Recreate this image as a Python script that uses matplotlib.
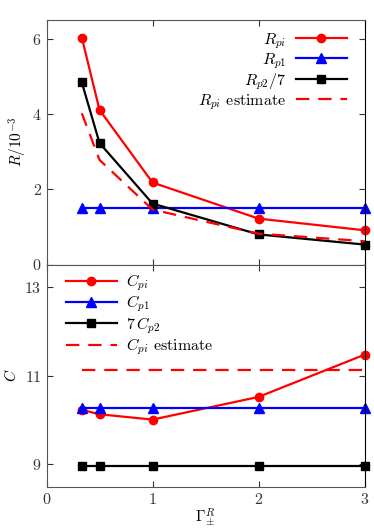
import matplotlib
matplotlib.use("Agg")
from matplotlib import pyplot as plt

plt.rcParams["font.family"] = "serif"
plt.rcParams["font.serif"] = ["cmr10", "DejaVu Serif"]
plt.rcParams["mathtext.fontset"] = "cm"
plt.rcParams["axes.formatter.use_mathtext"] = True
plt.rcParams["font.size"] = 11

gamma = [1/3, 0.5, 1, 2, 3]

# top panel, R in units of 1e-3
r_pi = [6.03, 4.11, 2.18, 1.22, 0.91]
r_p1 = [1.50, 1.50, 1.50, 1.50, 1.50]
r_p2_7 = [4.84, 3.23, 1.62, 0.80, 0.53]
r_pi_est = [4.02, 2.78, 1.46, 0.82, 0.62]

# bottom panel
c_pi = [10.23, 10.13, 10.01, 10.52, 11.47]
c_p1 = [10.28, 10.28, 10.28, 10.28, 10.28]
c_p2_7 = [8.96, 8.96, 8.96, 8.96, 8.96]
c_pi_est = [11.12, 11.12, 11.12, 11.12, 11.12]

fig = plt.figure(figsize=(3.74, 5.29), dpi=100)
ax1 = fig.add_axes([46.5/374, 1 - 264.5/529, 318/374, 244.5/529])
ax2 = fig.add_axes([46.5/374, 1 - 486.7/529, 318/374, 222.2/529])

lw = 1.6
ax1.plot(gamma, r_pi, "-o", color="red", lw=lw, ms=6, clip_on=False, label=r"$R_{pi}$")
ax1.plot(gamma, r_p1, "-^", color="blue", lw=lw, ms=7, clip_on=False, label=r"$R_{p1}$")
ax1.plot(gamma, r_p2_7, "-s", color="black", lw=lw, ms=6, clip_on=False, label=r"$R_{p2}/7$")
ax1.plot(gamma, r_pi_est, "--", color="red", lw=lw, dashes=(6, 4), label=r"$R_{pi}$ estimate")
ax1.set_xlim(0, 3)
ax1.set_ylim(0, 6.5)
ax1.set_yticks([0, 2, 4, 6])
ax1.set_xticks([0, 1, 2, 3])
ax1.tick_params(labelbottom=False)
ax1.set_ylabel(r"$R/10^{-3}$", labelpad=2)
ax1.legend(loc="upper right", bbox_to_anchor=(0.98, 1.0), frameon=False, markerfirst=False,
           handlelength=3.2, handletextpad=0.6, borderaxespad=0.3, labelspacing=0.02,
           fontsize=11.5)

ax2.plot(gamma, c_pi, "-o", color="red", lw=lw, ms=6, clip_on=False, label=r"$C_{pi}$")
ax2.plot(gamma, c_p1, "-^", color="blue", lw=lw, ms=7, clip_on=False, label=r"$C_{p1}$")
ax2.plot(gamma, c_p2_7, "-s", color="black", lw=lw, ms=6, clip_on=False, label=r"$7\,C_{p2}$")
ax2.plot(gamma, c_pi_est, "--", color="red", lw=lw, dashes=(6, 4), label=r"$C_{pi}$ estimate")
ax2.set_xlim(0, 3)
ax2.set_ylim(8.5, 13.5)
ax2.set_yticks([9, 11, 13])
ax2.set_xticks([0, 1, 2, 3])
ax2.set_ylabel(r"$C$", labelpad=4)
ax2.set_xlabel(r"$\Gamma_{\pm}^{R}$", labelpad=0)
ax2.legend(loc="upper left", bbox_to_anchor=(0.025, 1.015), frameon=False,
           handlelength=3.2, handletextpad=0.6, borderaxespad=0.3, labelspacing=0.05,
           fontsize=11.5)

for ax in (ax1, ax2):
    ax.tick_params(direction="in", top=True, right=True, length=4, colors="#333333",
                   labelcolor="#333333", labelsize=11.5)
    for s in ax.spines.values():
        s.set_color("#555555")
    ax.spines["right"].set_color("black")

plt.savefig("out.png", dpi=100)
